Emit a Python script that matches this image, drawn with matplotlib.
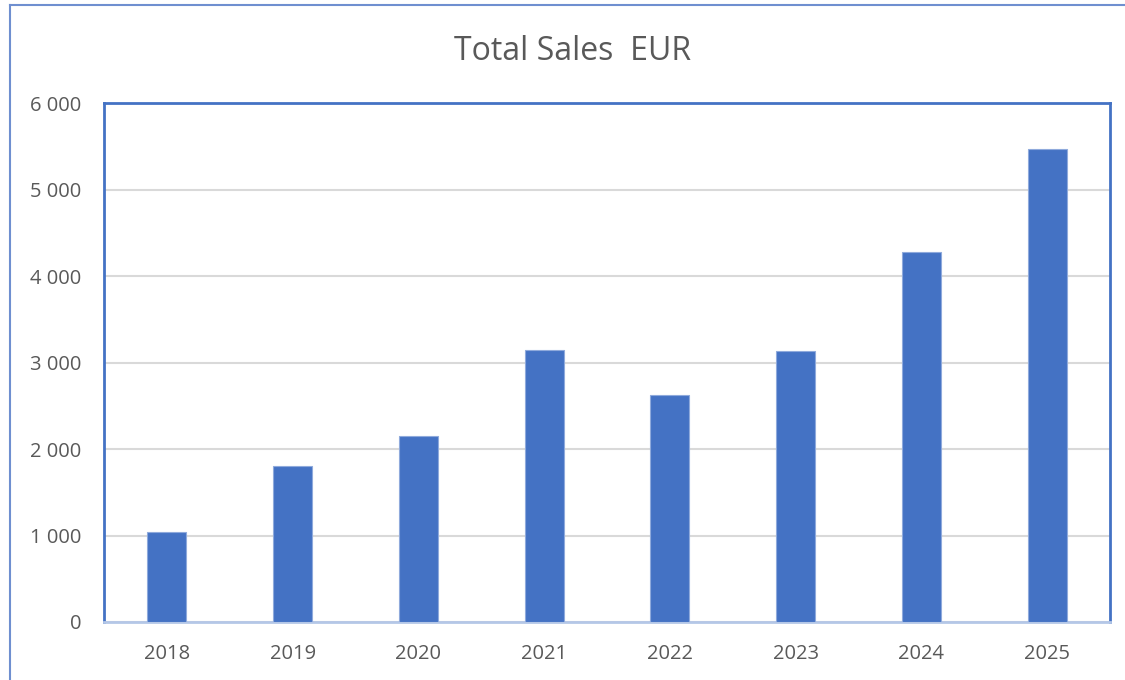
import matplotlib.pyplot as plt
from matplotlib.lines import Line2D
from matplotlib.ticker import FuncFormatter, MultipleLocator

plt.rcParams["font.family"] = ["Open Sans", "DejaVu Sans"]

years = ["2018", "2019", "2020", "2021", "2022", "2023", "2024", "2025"]
sales = [1044, 1807, 2150, 3148, 2624, 3135, 4281, 5472]

BLUE = "#4472C4"
GREY_TXT = "#595959"

fig = plt.figure(figsize=(11.25, 6.8), dpi=100)
ax = fig.add_axes([0.0924, 0.0853, 0.8943, 0.7632])

ax.bar(range(len(years)), sales, width=0.31, color=BLUE,
       edgecolor="#8FAADC", linewidth=0.8, zorder=3)

ax.set_xlim(-0.5, len(years) - 0.5)
ax.set_ylim(0, 6000)
ax.yaxis.set_major_locator(MultipleLocator(1000))
ax.yaxis.set_major_formatter(FuncFormatter(lambda v, p: f"{v:,.0f}".replace(",", " ")))
ax.set_xticks(range(len(years)))
ax.set_xticklabels(years)
ax.grid(axis="y", color="#D9D9D9", linewidth=1.5, zorder=0)
ax.tick_params(length=0, labelsize=14.5, colors=GREY_TXT)
ax.tick_params(axis="y", pad=16)
ax.tick_params(axis="x", pad=16)

for side in ["left", "top", "right"]:
    ax.spines[side].set_color(BLUE)
    ax.spines[side].set_linewidth(2)
ax.spines["bottom"].set_color("#B4C7E7")
ax.spines["bottom"].set_linewidth(2)

fig.text(0.509, 0.925, "Total Sales  EUR", ha="center", va="center",
         fontsize=23, color=GREY_TXT)

# outer chart border (cut off at right and bottom)
fig.add_artist(Line2D([10 / 1125, 10 / 1125], [0, 1 - 5 / 680], color="#6F8FD0", linewidth=1.5))
fig.add_artist(Line2D([10 / 1125, 1], [1 - 5 / 680, 1 - 5 / 680], color="#6F8FD0", linewidth=1.5))

fig.savefig("out.png", dpi=100)
